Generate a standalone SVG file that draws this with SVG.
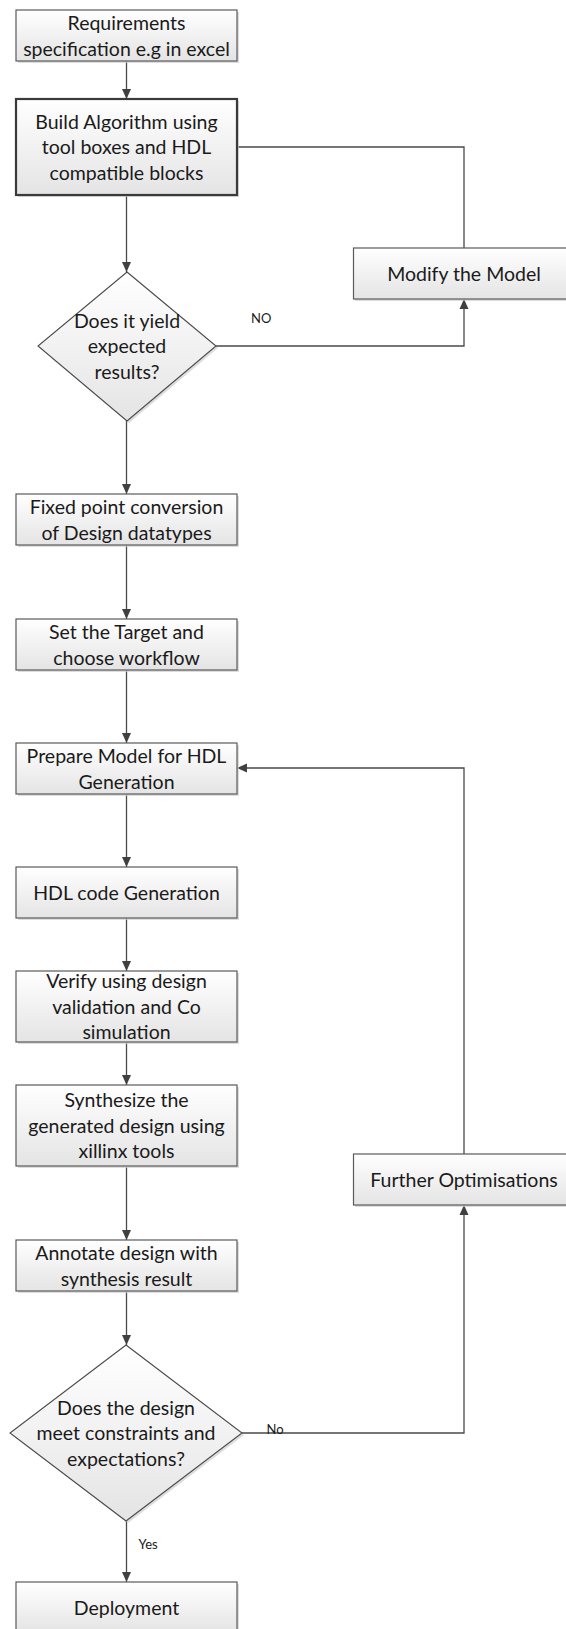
<svg xmlns="http://www.w3.org/2000/svg" width="566" height="1629" viewBox="0 0 566 1629">
  <defs>
    <linearGradient id="fill" x1="0" y1="0" x2="0" y2="1">
      <stop offset="0" stop-color="#ffffff"/>
      <stop offset="1" stop-color="#e4e4e4"/>
    </linearGradient>
    <marker id="arrow" viewBox="0 0 10 10" refX="10" refY="5" markerWidth="10" markerHeight="10" markerUnits="userSpaceOnUse" orient="auto">
      <path d="M0,0.5 L10,5 L0,9.5 Z" fill="#404040"/>
    </marker>
  </defs>
  <style>
    .box { fill: url(#fill); stroke: #5a5a5a; stroke-width: 1.2; }
    .box-strong { fill: url(#fill); stroke: #3a3a3a; stroke-width: 2.2; }
    .shadow { fill: #cfcfcf; opacity: 0.7; }
    .diamond { fill: url(#fill); stroke: #4a4a4a; stroke-width: 1.1; }
    .label { font-family: Lato, "Liberation Sans", sans-serif; font-size: 19.5px; fill: #1a1a1a; text-anchor: middle; }
    .small { font-family: Lato, "Liberation Sans", sans-serif; font-size: 13px; fill: #1a1a1a; }
    .conn { fill: none; stroke: #4a4a4a; stroke-width: 1.3; }
    .conn-arrow { fill: none; stroke: #4a4a4a; stroke-width: 1.3; marker-end: url(#arrow); }
  </style>

  <rect width="566" height="1629" fill="#ffffff"/>

  <!-- connectors -->
  <g id="connectors">
    <line class="conn-arrow" x1="126.5" y1="61" x2="126.5" y2="99"/>
    <line class="conn-arrow" x1="126.5" y1="196" x2="126.5" y2="272"/>
    <polyline class="conn" points="237,147 464,147 464,248"/>
    <polyline class="conn-arrow" points="216,346 464,346 464,299"/>
    <line class="conn-arrow" x1="126.5" y1="421" x2="126.5" y2="494"/>
    <line class="conn-arrow" x1="126.5" y1="545" x2="126.5" y2="619"/>
    <line class="conn-arrow" x1="126.5" y1="670" x2="126.5" y2="743"/>
    <line class="conn-arrow" x1="126.5" y1="794" x2="126.5" y2="867"/>
    <line class="conn-arrow" x1="126.5" y1="918" x2="126.5" y2="971"/>
    <line class="conn-arrow" x1="126.5" y1="1042" x2="126.5" y2="1085"/>
    <line class="conn-arrow" x1="126.5" y1="1167" x2="126.5" y2="1240"/>
    <line class="conn-arrow" x1="126.5" y1="1291" x2="126.5" y2="1345"/>
    <line class="conn-arrow" x1="126.5" y1="1521" x2="126.5" y2="1582"/>
    <polyline class="conn-arrow" points="242,1433 464,1433 464,1205"/>
    <polyline class="conn-arrow" points="464,1154 464,768 237,768"/>
    <text class="small" x="251" y="323">NO</text>
    <text class="small" x="266.5" y="1434">No</text>
    <text class="small" x="138.5" y="1549">Yes</text>
  </g>

  <g id="requirements">
    <rect class="shadow" x="18" y="12" width="221" height="51"/>
    <rect class="box" x="16" y="10" width="221" height="51"/>
    <text class="label" x="126.5" y="30">Requirements</text>
    <text class="label" x="126.5" y="55.5">specification e.g in excel</text>
  </g>

  <g id="build-algorithm">
    <rect class="shadow" x="18" y="101" width="221" height="96"/>
    <rect class="box-strong" x="16" y="99" width="221" height="96"/>
    <text class="label" x="126.5" y="128.5">Build Algorithm using</text>
    <text class="label" x="126.5" y="154">tool boxes and HDL</text>
    <text class="label" x="126.5" y="179.5">compatible blocks</text>
  </g>

  <g id="modify-model">
    <rect class="shadow" x="355" y="250" width="221" height="51"/>
    <rect class="box" x="353.5" y="248" width="221" height="51"/>
    <text class="label" x="464" y="280.5">Modify the Model</text>
  </g>

  <g id="yield-decision">
    <polygon class="shadow" points="129,274 218,348 129,423 40,348"/>
    <polygon class="diamond" points="127,272 216,346 127,421 38,346"/>
    <text class="label" x="127" y="327.5">Does it yield</text>
    <text class="label" x="127" y="353">expected</text>
    <text class="label" x="127" y="378.5">results?</text>
  </g>

  <g id="fixed-point">
    <rect class="shadow" x="18" y="496" width="221" height="51"/>
    <rect class="box" x="16" y="494" width="221" height="51"/>
    <text class="label" x="126.5" y="514.25">Fixed point conversion</text>
    <text class="label" x="126.5" y="539.75">of Design datatypes</text>
  </g>

  <g id="set-target">
    <rect class="shadow" x="18" y="621" width="221" height="51"/>
    <rect class="box" x="16" y="619" width="221" height="51"/>
    <text class="label" x="126.5" y="639.25">Set the Target and</text>
    <text class="label" x="126.5" y="664.75">choose workflow</text>
  </g>

  <g id="prepare-model">
    <rect class="shadow" x="18" y="745" width="221" height="51"/>
    <rect class="box" x="16" y="743" width="221" height="51"/>
    <text class="label" x="126.5" y="763.25">Prepare Model for HDL</text>
    <text class="label" x="126.5" y="788.75">Generation</text>
  </g>

  <g id="hdl-generation">
    <rect class="shadow" x="18" y="869" width="221" height="51"/>
    <rect class="box" x="16" y="867" width="221" height="51"/>
    <text class="label" x="126.5" y="899.5">HDL code Generation</text>
  </g>

  <g id="verify">
    <rect class="shadow" x="18" y="973" width="221" height="71"/>
    <rect class="box" x="16" y="971" width="221" height="71"/>
    <text class="label" x="126.5" y="988">Verify using design</text>
    <text class="label" x="126.5" y="1013.5">validation and Co</text>
    <text class="label" x="126.5" y="1039">simulation</text>
  </g>

  <g id="synthesize">
    <rect class="shadow" x="18" y="1087" width="221" height="81"/>
    <rect class="box" x="16" y="1085" width="221" height="81"/>
    <text class="label" x="126.5" y="1107">Synthesize the</text>
    <text class="label" x="126.5" y="1132.5">generated design using</text>
    <text class="label" x="126.5" y="1158">xillinx tools</text>
  </g>

  <g id="further-optimisations">
    <rect class="shadow" x="355" y="1156" width="221" height="51"/>
    <rect class="box" x="353.5" y="1154" width="221" height="51"/>
    <text class="label" x="464" y="1186.5">Further Optimisations</text>
  </g>

  <g id="annotate">
    <rect class="shadow" x="18" y="1242" width="221" height="51"/>
    <rect class="box" x="16" y="1240" width="221" height="51"/>
    <text class="label" x="126.5" y="1260.25">Annotate design with</text>
    <text class="label" x="126.5" y="1285.75">synthesis result</text>
  </g>

  <g id="constraints-decision">
    <polygon class="shadow" points="128,1347 244,1435 128,1523 12,1435"/>
    <polygon class="diamond" points="126,1345 242,1433 126,1521 10,1433"/>
    <text class="label" x="126" y="1414.5">Does the design</text>
    <text class="label" x="126" y="1440">meet constraints and</text>
    <text class="label" x="126" y="1465.5">expectations?</text>
  </g>

  <g id="deployment">
    <rect class="shadow" x="18" y="1584" width="221" height="51"/>
    <rect class="box" x="16" y="1582" width="221" height="51"/>
    <text class="label" x="126.5" y="1614.5">Deployment</text>
  </g>
</svg>
